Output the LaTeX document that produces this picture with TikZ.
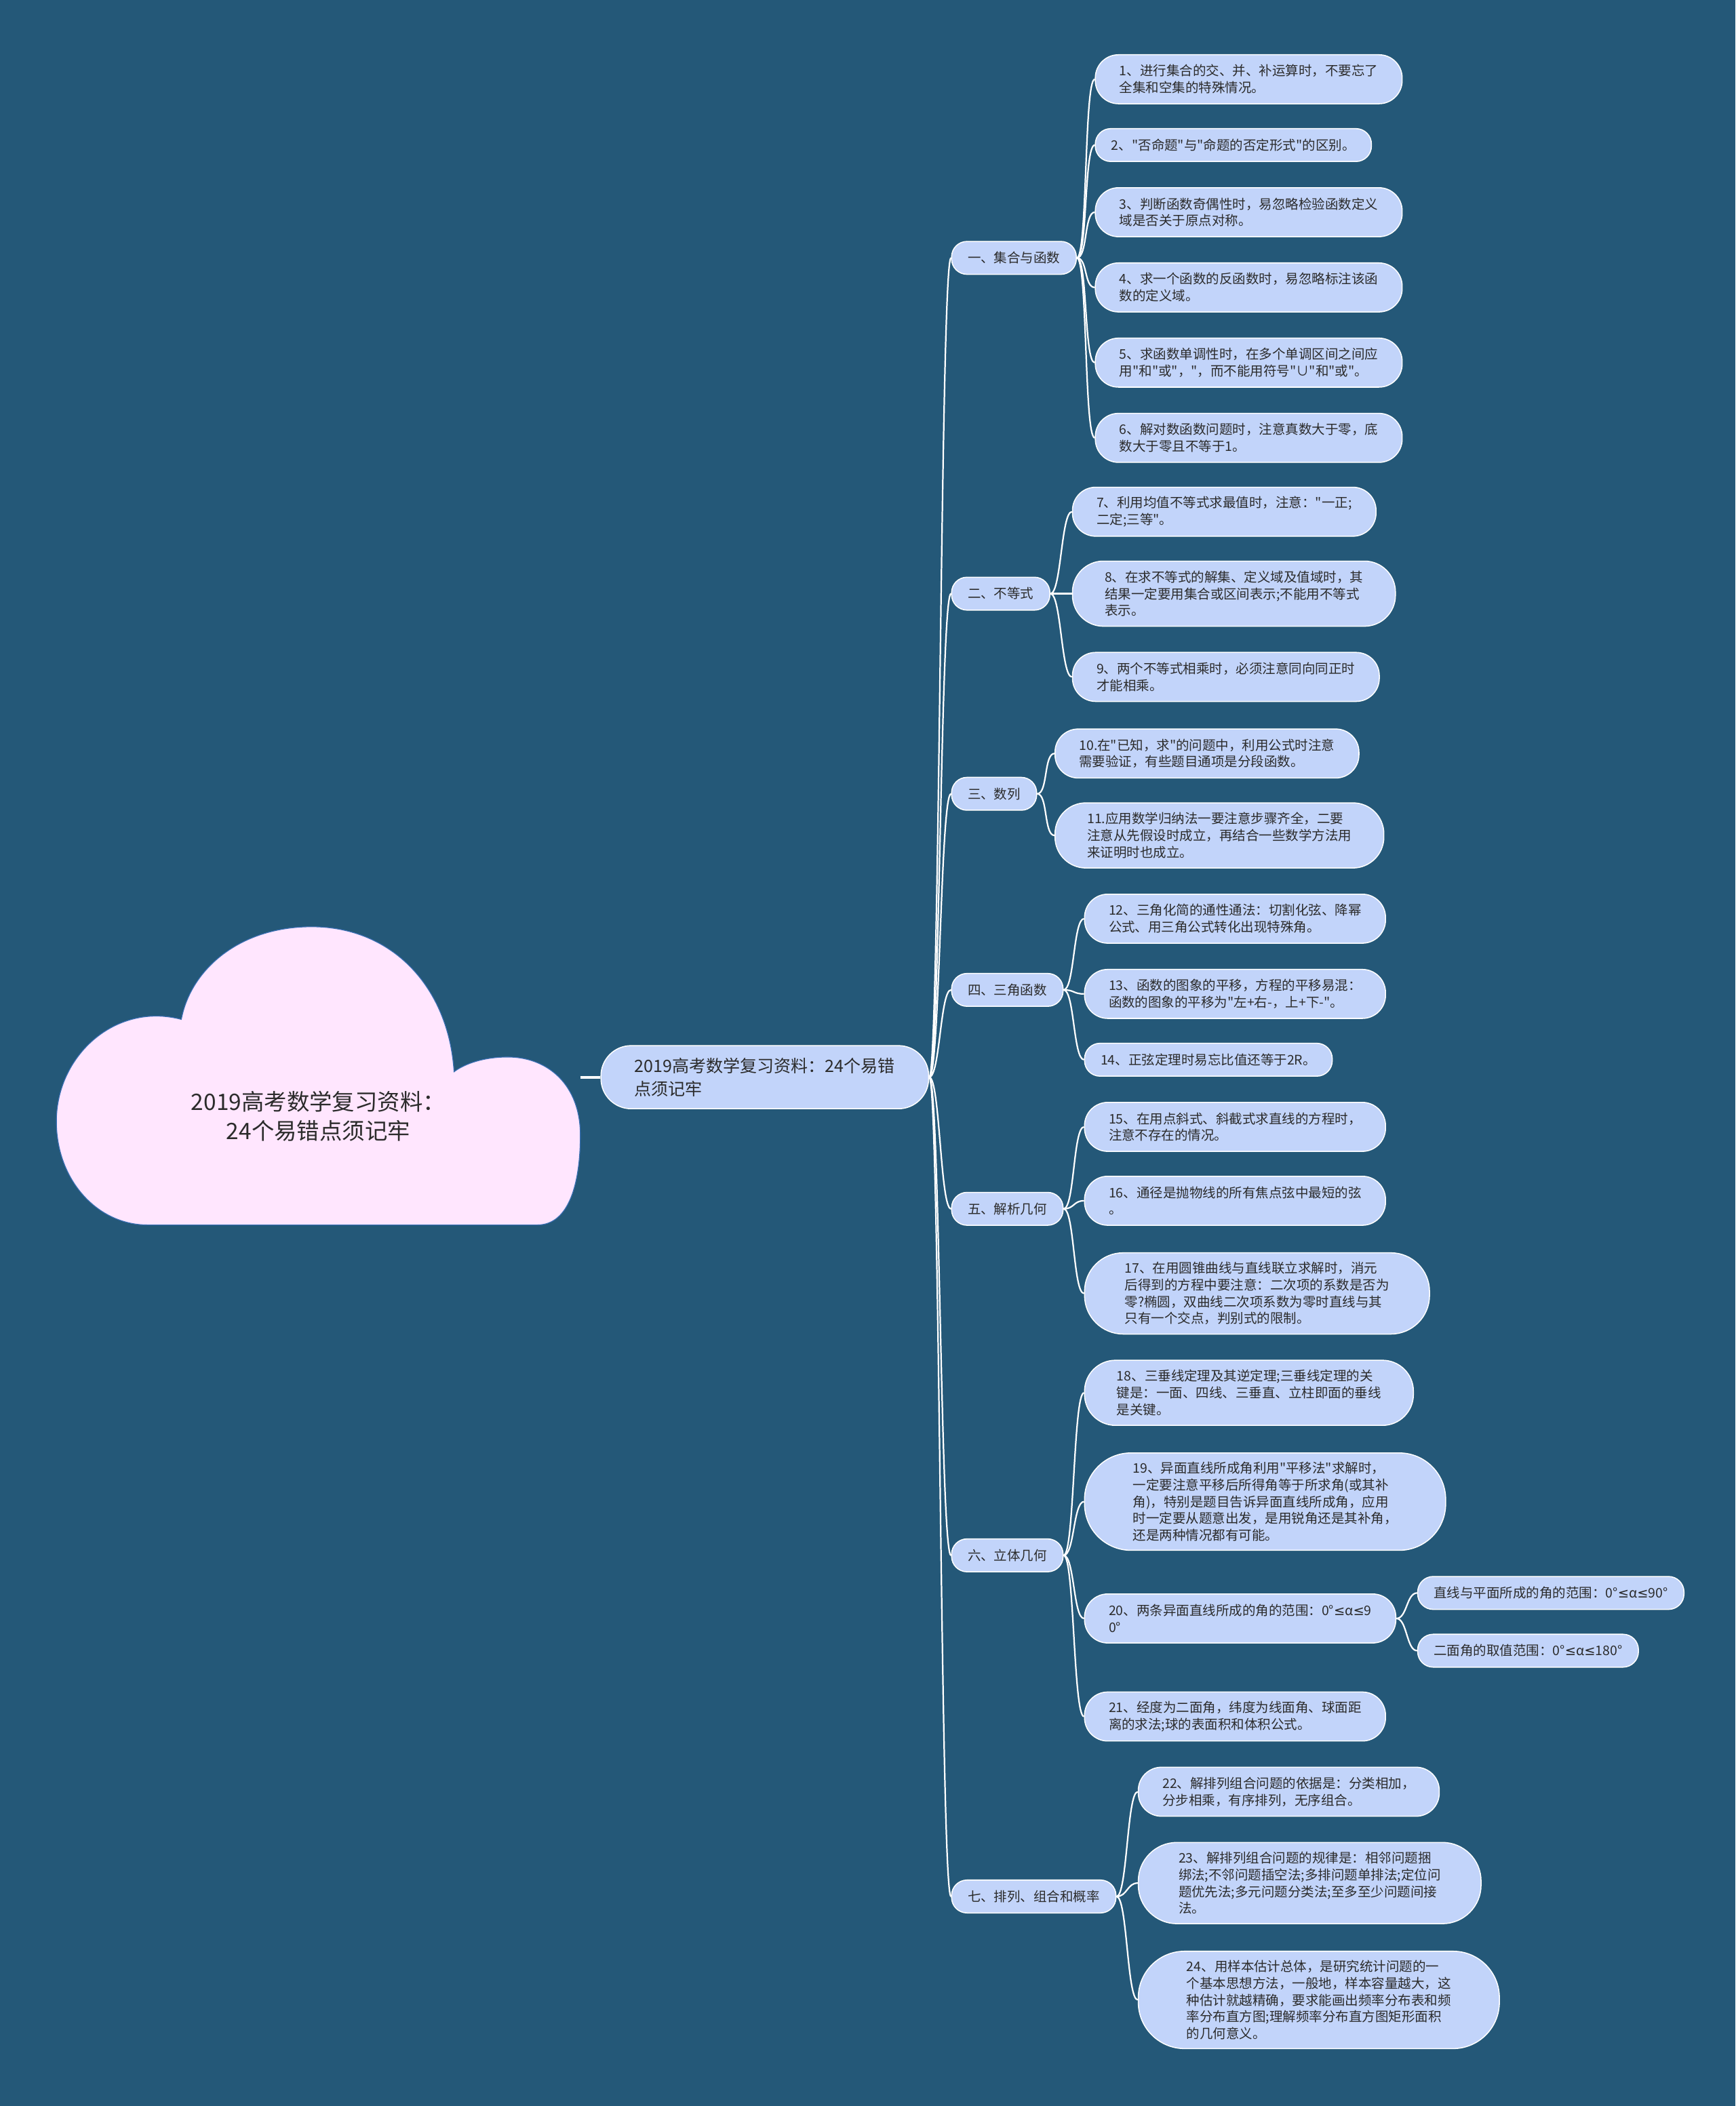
\documentclass[tikz,border=0pt]{standalone}
\usepackage{fontspec}
\setmainfont{Noto Sans CJK SC}[Ligatures=TeXOff]
\newfontfamily\relfont{DejaVu Sans}
\usetikzlibrary{shapes.misc}
\definecolor{bgblue}{HTML}{245878}
\definecolor{leafblue}{HTML}{C2D4FA}
\definecolor{cloudpink}{HTML}{FFE6FE}
\definecolor{cloudedge}{HTML}{3A70B5}
\definecolor{inkgray}{HTML}{2B2B2B}
\newcommand{\lesym}{{\relfont ≤}}
\begin{document}
\begin{tikzpicture}[x=0.5mm, y=-0.5mm,
		pill/.style={rectangle, draw=white, line width=1.1pt, fill=leafblue, text=inkgray, align=left, anchor=west,
			inner ysep=2pt, minimum height={(12.5+12*#1)*0.5mm}, inner xsep={(6+6*#1)*0.5mm}, rounded corners={(6+6*#1)*0.48mm}},
		leaf/.style={pill=#1, font=\fontsize{14}{17.8}\selectfont},
		leaf/.default=2,
		branch/.style={pill=1, font=\fontsize{14}{17}\selectfont},
		link/.style={white, line width=1.6pt}]
		\fill[bgblue] (0, 0) rectangle (1292, 1568);
		\useasboundingbox (0, 0) rectangle (1292, 1568);
		% cloud
		\draw[fill=cloudpink, draw=cloudedge, line width=0.8pt] (110, 912) -- (400, 912)
			.. controls (424, 912) and (432, 880) .. (432, 845)
			.. controls (432, 808) and (408, 787) .. (378, 787)
			.. controls (360, 787) and (346, 792) .. (338, 798)
			.. controls (334, 735) and (292, 690) .. (232, 690)
			.. controls (178, 690) and (142, 722) .. (135, 759)
			.. controls (86, 746) and (42, 786) .. (42, 835)
			.. controls (42, 878) and (72, 912) .. (110, 912) -- cycle;
		\node[font=\fontsize{24}{31}\selectfont, text=inkgray, align=center] (root) at (237, 831) {2019高考数学复习资料：\\24个易错点须记牢};
		\coordinate (rootR) at (432, 802);
		\node[pill=2, minimum height=47*0.5mm, inner xsep=25*0.5mm, rounded corners=22.5*0.5mm, font=\fontsize{18}{24.2}\selectfont] (main) at (447, 802) {2019高考数学复习资料：24个易错\\点须记牢};
		\draw[white, line width=3pt] (rootR) -- (main.west);
		% branches
		\node[branch] (b1) at (708, 192) {一、集合与函数};
		\node[branch] (b2) at (708, 442) {二、不等式};
		\node[branch] (b3) at (708, 591) {三、数列};
		\node[branch] (b4) at (708, 737) {四、三角函数};
		\node[branch] (b5) at (708, 900) {五、解析几何};
		\node[branch] (b6) at (708, 1158) {六、立体几何};
		\node[branch] (b7) at (708, 1412) {七、排列、组合和概率};
		% leaves
		\node[leaf] (l1) at (815, 59) {1、进行集合的交、并、补运算时，不要忘了\\全集和空集的特殊情况。};
		\node[leaf=1] (l2) at (815, 108) {2、"否命题"与"命题的否定形式"的区别。};
		\node[leaf] (l3) at (815, 158) {3、判断函数奇偶性时，易忽略检验函数定义\\域是否关于原点对称。};
		\node[leaf] (l4) at (815, 214) {4、求一个函数的反函数时，易忽略标注该函\\数的定义域。};
		\node[leaf] (l5) at (815, 270) {5、求函数单调性时，在多个单调区间之间应\\用"和"或"，"，而不能用符号"∪"和"或"。};
		\node[leaf] (l6) at (815, 326) {6、解对数函数问题时，注意真数大于零，底\\数大于零且不等于1。};
		\node[leaf] (l7) at (798, 381) {7、利用均值不等式求最值时，注意："一正;\\二定;三等"。};
		\node[leaf=3] (l8) at (798, 442) {8、在求不等式的解集、定义域及值域时，其\\结果一定要用集合或区间表示;不能用不等式\\表示。};
		\node[leaf] (l9) at (798, 504) {9、两个不等式相乘时，必须注意同向同正时\\才能相乘。};
		\node[leaf] (l10) at (785, 561) {10.在"已知，求"的问题中，利用公式时注意\\需要验证，有些题目通项是分段函数。};
		\node[leaf=3] (l11) at (785, 622) {11.应用数学归纳法一要注意步骤齐全，二要\\注意从先假设时成立，再结合一些数学方法用\\来证明时也成立。};
		\node[leaf] (l12) at (807, 684) {12、三角化简的通性通法：切割化弦、降幂\\公式、用三角公式转化出现特殊角。};
		\node[leaf] (l13) at (807, 740) {13、函数的图象的平移，方程的平移易混：\\函数的图象的平移为"左+右-，上+下-"。};
		\node[leaf=1] (l14) at (807, 789) {14、正弦定理时易忘比值还等于2R。};
		\node[leaf] (l15) at (807, 839) {15、在用点斜式、斜截式求直线的方程时，\\注意不存在的情况。};
		\node[leaf] (l16) at (807, 894) {16、通径是抛物线的所有焦点弦中最短的弦\\。};
		\node[leaf=4] (l17) at (807, 963) {17、在用圆锥曲线与直线联立求解时，消元\\后得到的方程中要注意：二次项的系数是否为\\零?椭圆，双曲线二次项系数为零时直线与其\\只有一个交点，判别式的限制。};
		\node[leaf=3] (l18) at (807, 1037) {18、三垂线定理及其逆定理;三垂线定理的关\\键是：一面、四线、三垂直、立柱即面的垂线\\是关键。};
		\node[leaf=5] (l19) at (807, 1118) {19、异面直线所成角利用"平移法"求解时，\\一定要注意平移后所得角等于所求角(或其补\\角)，特别是题目告诉异面直线所成角，应用\\时一定要从题意出发，是用锐角还是其补角，\\还是两种情况都有可能。};
		\node[leaf] (l20) at (807, 1205) {20、两条异面直线所成的角的范围：0°\lesym α\lesym 9\\0°};
		\node[leaf=1] (l20a) at (1055, 1186) {直线与平面所成的角的范围：0°\lesym α\lesym 90°};
		\node[leaf=1] (l20b) at (1055, 1229) {二面角的取值范围：0°\lesym α\lesym 180°};
		\node[leaf] (l21) at (807, 1278) {21、经度为二面角，纬度为线面角、球面距\\离的求法;球的表面积和体积公式。};
		\node[leaf] (l22) at (847, 1334) {22、解排列组合问题的依据是：分类相加，\\分步相乘，有序排列，无序组合。};
		\node[leaf=4] (l23) at (847, 1402) {23、解排列组合问题的规律是：相邻问题捆\\绑法;不邻问题插空法;多排问题单排法;定位问\\题优先法;多元问题分类法;至多至少问题间接\\法。};
		\node[leaf=5] (l24) at (847, 1489) {24、用样本估计总体，是研究统计问题的一\\个基本思想方法，一般地，样本容量越大，这\\种估计就越精确，要求能画出频率分布表和频\\率分布直方图;理解频率分布直方图矩形面积\\的几何意义。};
		% links
		\foreach \p/\c in {main/b1, main/b2, main/b3, main/b4, main/b5, main/b6, main/b7,
				b1/l1, b1/l2, b1/l3, b1/l4, b1/l5, b1/l6, b2/l7, b2/l8, b2/l9, b3/l10, b3/l11,
				b4/l12, b4/l13, b4/l14, b5/l15, b5/l16, b5/l17, b6/l18, b6/l19, b6/l20, b6/l21,
				l20/l20a, l20/l20b, b7/l22, b7/l23, b7/l24}
			\draw[link] (\p.east) .. controls +(8, 0) and +(-8, 0) .. (\c.west);
	\end{tikzpicture}
\end{document}
